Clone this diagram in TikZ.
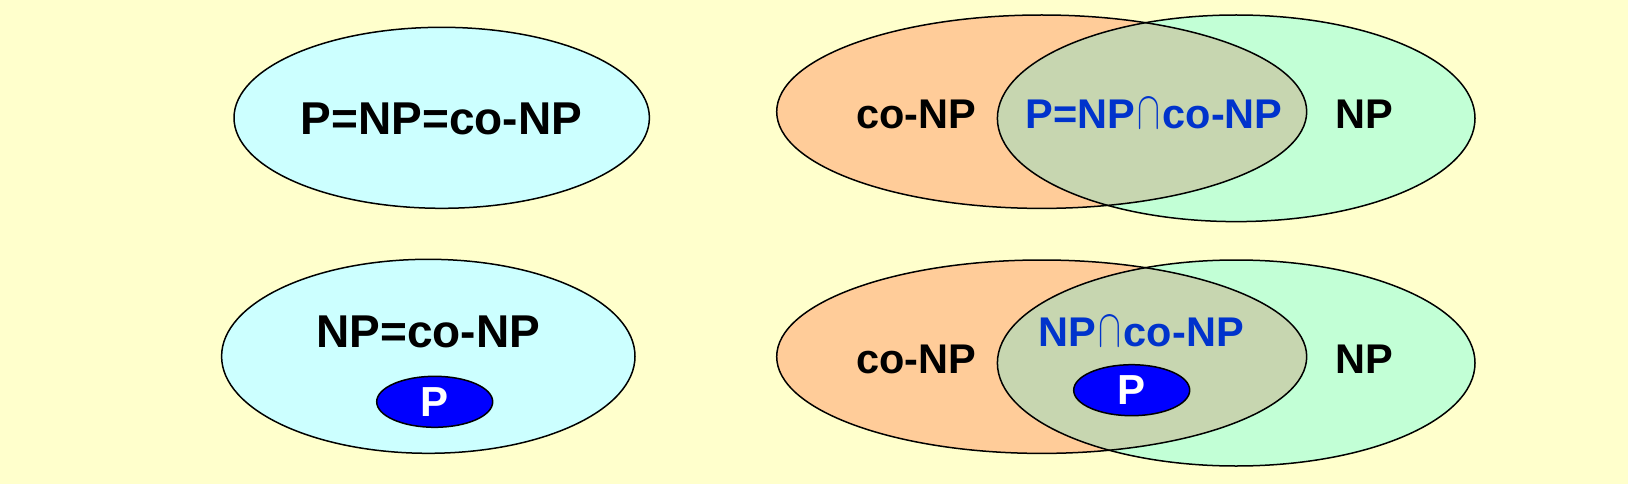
\documentclass[tikz,border=0pt]{standalone}
\usepackage{fontspec}
\usepackage{graphicx}
\setmainfont{Liberation Sans}
\usetikzlibrary{shapes.geometric}

\definecolor{bgyellow}{HTML}{FFFFCC}
\definecolor{cyanset}{HTML}{CCFFFF}
\definecolor{conpset}{HTML}{FFCC99}
\definecolor{npset}{HTML}{C2FFD6}
\definecolor{meetset}{HTML}{C7D6B0}
\definecolor{meettext}{HTML}{0033CC}
\definecolor{pblue}{HTML}{0000FF}

% tall intersection sign
\newcommand{\meet}{\kern0.06em\resizebox{0.55em}{0.716em}{$\cap$}\kern0.06em}

\begin{document}
\begin{tikzpicture}[x=1pt, y=-1pt,
  outline/.style={draw=black, line width=1.5pt},
  biglabel/.style={anchor=base, font=\bfseries\fontsize{46}{46}\selectfont},
  setlabel/.style={anchor=base, font=\bfseries\fontsize{41.5}{41.5}\selectfont},
  pset/.style={ellipse, outline, fill=pblue, text=white, inner sep=0pt,
    minimum width=116pt, minimum height=51pt,
    font=\bfseries\fontsize{42}{42}\selectfont}]

  % Background
  \fill[bgyellow] (0,0) rectangle (1628,484);

  % Top left: P = NP = co-NP
  \draw[outline, fill=cyanset] (441.7,117.8) ellipse [x radius=207.7pt, y radius=90.5pt];
  \node[biglabel] (allequal) at (441.5,135) {P=NP=co-NP};

  % Bottom left: NP = co-NP with P inside
  \draw[outline, fill=cyanset] (428.3,356.3) ellipse [x radius=206.7pt, y radius=97pt];
  \node[biglabel] (npeqconp) at (428.3,347.7) {NP=co-NP};
  \node[pset] (pleft) at (434.7,401.8) {P};

  % Top right: co-NP and NP meet in P
  \fill[conpset] (1041.7,111.7) ellipse [x radius=265pt, y radius=96.7pt];
  \fill[npset] (1236.2,118.3) ellipse [x radius=238.8pt, y radius=103.3pt];
  \begin{scope}
    \clip (1041.7,111.7) ellipse [x radius=265pt, y radius=96.7pt];
    \fill[meetset] (1236.2,118.3) ellipse [x radius=238.8pt, y radius=103.3pt];
  \end{scope}
  \draw[outline] (1041.7,111.7) ellipse [x radius=265pt, y radius=96.7pt];
  \draw[outline] (1236.2,118.3) ellipse [x radius=238.8pt, y radius=103.3pt];
  \node[setlabel] (conptop) at (916,128.3) {co-NP};
  \node[setlabel, text=meettext] (meettop) at (1154,128.3) {P=NP\meet co-NP};
  \node[setlabel] (nptop) at (1364.5,128.3) {NP};

  % Bottom right: P strictly inside NP and co-NP
  \fill[conpset] (1041.7,356.7) ellipse [x radius=265pt, y radius=96.7pt];
  \fill[npset] (1236.2,363) ellipse [x radius=238.8pt, y radius=103pt];
  \begin{scope}
    \clip (1041.7,356.7) ellipse [x radius=265pt, y radius=96.7pt];
    \fill[meetset] (1236.2,363) ellipse [x radius=238.8pt, y radius=103pt];
  \end{scope}
  \draw[outline] (1041.7,356.7) ellipse [x radius=265pt, y radius=96.7pt];
  \draw[outline] (1236.2,363) ellipse [x radius=238.8pt, y radius=103pt];
  \node[setlabel] (conpbottom) at (916,373.5) {co-NP};
  \node[setlabel, text=meettext] (meetbottom) at (1141,346.7) {NP\meet co-NP};
  \node[setlabel] (npbottom) at (1364.5,373.5) {NP};
  \node[pset] (pright) at (1131.7,390.2) {P};
\end{tikzpicture}
\end{document}
